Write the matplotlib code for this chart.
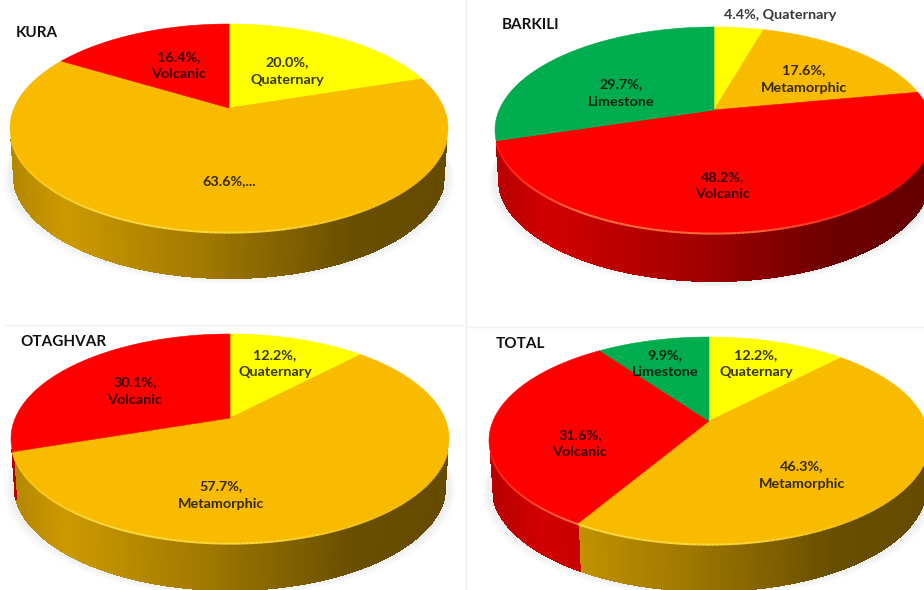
import matplotlib
matplotlib.use("Agg")
import matplotlib.pyplot as plt
from matplotlib.collections import PolyCollection, LineCollection
from matplotlib.colors import to_rgb
import numpy as np

# values, clockwise from 12 o'clock
kura_rocks = ["Quaternary", "Metamorphic", "Volcanic"]
kura_values = [20.0, 63.6, 16.4]
barkili_rocks = ["Quaternary", "Metamorphic", "Volcanic", "Limestone"]
barkili_values = [4.4, 17.6, 48.2, 29.7]
otaghvar_rocks = ["Quaternary", "Metamorphic", "Volcanic"]
otaghvar_values = [12.2, 57.7, 30.1]
total_rocks = ["Quaternary", "Metamorphic", "Volcanic", "Limestone"]
total_values = [12.2, 46.3, 31.6, 9.9]

rock_colors = {"Quaternary": "#FFFF00", "Metamorphic": "#F9BB00",
               "Volcanic": "#FF0000", "Limestone": "#00AD4E"}

plt.rcParams["font.family"] = ["Lato", "DejaVu Sans"]
FONT = 10.4


def to_screen(t, shape):
    # circle seen in perspective: apex is not the middle of the ellipse
    cx, cy, rx, back, front = shape
    k = (front - back) / (front + back)
    ax_ = rx * np.sqrt(1 - k ** 2)
    ay_ = back * (1 + k)
    w = 1 + k * np.sin(t)
    return cx + ax_ * np.cos(t) / w, cy - ay_ * np.sin(t) / w


def side_shade(x, cx, rx):
    # dark to the right, the way the office bevel does it
    pos = (x - (cx - rx)) / (2 * rx)
    return np.interp(pos, [0, 0.12, 0.45, 0.78, 1], [0.72, 0.82, 0.64, 0.42, 0.40])


def draw_pie(ax, values, rocks, shape, depth):
    cx, cy, rx, back, front = shape
    edges = np.cumsum([0] + list(values)) / sum(values)
    angles = np.pi / 2 - 2 * np.pi * edges

    # soft shadow under the disc
    t = np.linspace(0, 2 * np.pi, 200)
    x, y = to_screen(t, shape)
    for grow in range(1, 9):
        ax.fill(cx + (x - cx) * (1 + grow / 260), y + depth + grow * 0.8,
                color="black", alpha=0.007, lw=0, zorder=1)

    quads, colors, rim, rim_colors = [], [], [], []
    for i, rock in enumerate(rocks):
        base = np.array(to_rgb(rock_colors[rock]))
        steps = max(int((angles[i] - angles[i + 1]) * 70), 2)
        tt = np.linspace(angles[i], angles[i + 1], steps + 1)
        x, y = to_screen(tt, shape)
        xb = cx + (x - cx) * 0.985
        for j in range(steps):
            # wall only starts below the widest point of the disc
            if np.sin(tt[j]) > -0.3 or np.sin(tt[j + 1]) > -0.3:
                continue
            quads.append([(x[j], y[j]), (x[j + 1], y[j + 1]),
                          (xb[j + 1], y[j + 1] + depth), (xb[j], y[j] + depth)])
            xm = (x[j] + x[j + 1]) / 2
            colors.append(base * side_shade(xm, cx, rx))
            # lighter rim on the front edge, fading out to the right
            pos = (xm - (cx - rx)) / (2 * rx)
            glow = np.interp(pos, [0, 0.2, 0.6, 0.9, 1], [0.1, 0.45, 0.4, 0.05, 0])
            rim.append([(x[j], y[j] + 0.6), (x[j + 1], y[j + 1] + 0.6)])
            rim_colors.append(base + (np.array([1, 1, 0.55]) - base) * glow)

        # top face of the slice
        ax.fill(np.r_[cx, x], np.r_[cy, y], color=base, lw=0.4, zorder=4)

    ax.add_collection(PolyCollection(quads, facecolors=colors, edgecolors=colors,
                                     linewidths=0.8, antialiaseds=False, zorder=2))
    ax.add_collection(LineCollection(rim, colors=rim_colors, linewidths=1.5, zorder=5))


def pie_labels(ax, labels):
    for text, x, y in labels:
        ax.text(x, y, text, ha="center", va="center", fontsize=FONT, weight="bold",
                color="black", alpha=0.78, linespacing=1.5, zorder=6)


def two_lines(value, rock):
    return "%.1f%%,\n%s" % (value, rock)


fig = plt.figure(figsize=(9.24, 5.9), dpi=100)
ax = fig.add_axes([0, 0, 1, 1])
ax.set_xlim(0, 924)
ax.set_ylim(590, 0)
ax.axis("off")

# panel borders left over from the screenshot
ax.plot([466, 466], [0, 590], color="#EDEDED", lw=1, zorder=0)
ax.plot([5, 462], [325, 325], color="#EFEFEF", lw=1, zorder=0)
ax.plot([466, 924], [327, 327], color="#EFEFEF", lw=1, zorder=0)

# shape is cx, apex y, half width, apex to back, apex to front
draw_pie(ax, kura_values, kura_rocks, (229, 108, 219, 84, 124), 46)
draw_pie(ax, barkili_values, barkili_rocks, (714, 110, 219, 83, 123), 48)
draw_pie(ax, otaghvar_values, otaghvar_rocks, (230, 418, 219, 84, 125), 47)
draw_pie(ax, total_values, total_rocks, (709, 421, 220, 84, 123), 47)

pie_labels(ax, [
    (two_lines(kura_values[2], kura_rocks[2]), 179, 66),
    (two_lines(kura_values[0], kura_rocks[0]), 287, 71),
    ("%.1f%%,..." % kura_values[1], 229, 181),
    ("%.1f%%, %s" % (barkili_values[0], barkili_rocks[0]), 780, 15),
    (two_lines(barkili_values[1], barkili_rocks[1]), 804, 79),
    (two_lines(barkili_values[3], barkili_rocks[3]), 621, 93),
    (two_lines(barkili_values[2], barkili_rocks[2]), 723, 186),
    (two_lines(otaghvar_values[0], otaghvar_rocks[0]), 275, 364),
    (two_lines(otaghvar_values[2], otaghvar_rocks[2]), 135, 391),
    (two_lines(otaghvar_values[1], otaghvar_rocks[1]), 221, 495),
    (two_lines(total_values[3], total_rocks[3]), 665, 364),
    (two_lines(total_values[0], total_rocks[0]), 756, 364),
    (two_lines(total_values[2], total_rocks[2]), 580, 444),
    (two_lines(total_values[1], total_rocks[1]), 802, 475),
])

for name, x, y in [("KURA", 16, 33), ("BARKILI", 502, 25),
                   ("OTAGHVAR", 20, 342), ("TOTAL", 496, 344)]:
    ax.text(x, y, name, ha="left", va="center", fontsize=11, weight="bold",
            color="#111111", zorder=6)

fig.savefig("out.png", dpi=100)
